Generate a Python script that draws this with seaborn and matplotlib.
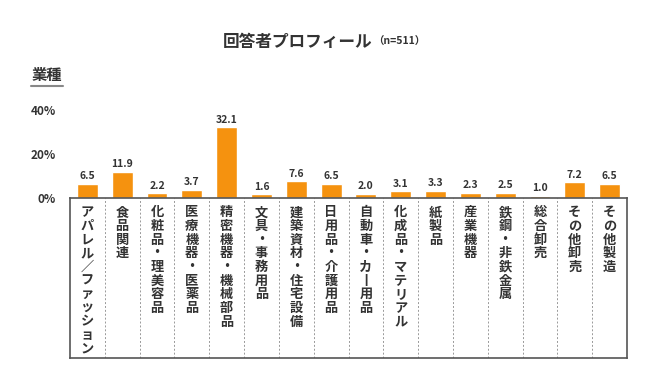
import matplotlib
matplotlib.use("Agg")
import matplotlib.pyplot as plt
import seaborn as sns
import pandas as pd

# data
categories = ["アパレル／ファッション", "食品関連", "化粧品・理美容品", "医療機器・医薬品",
              "精密機器・機械部品", "文具・事務用品", "建築資材・住宅設備", "日用品・介護用品",
              "自動車・カー用品", "化成品・マテリアル", "紙製品", "産業機器",
              "鉄鋼・非鉄金属", "総合卸売", "その他卸売", "その他製造"]
values = [6.5, 11.9, 2.2, 3.7, 32.1, 1.6, 7.6, 6.5, 2.0, 3.1, 3.3, 2.3, 2.5, 1.0, 7.2, 6.5]
yticks = [0, 20, 40]

sns.set_theme(style="white")
plt.rcParams['font.family'] = ['Noto Sans CJK JP', 'DejaVu Sans']

bar_color = "#F5920F"
text_color = "#333333"

df = pd.DataFrame({"cat": categories, "val": values})

fig = plt.figure(figsize=(6.5, 3.65), dpi=100)
ax = fig.add_axes([70/650, 1 - 198/365, 557/650, 99/365])
ax_box = fig.add_axes([70/650, 1 - 358/365, 557/650, 160/365])

sns.barplot(data=df, x="cat", y="val", color=bar_color, width=0.6,
            saturation=1, ax=ax)
ax.set_ylim(0, 45)
ax.set_xlim(-0.5, len(categories) - 0.5)
ax.set_xlabel("")
ax.set_ylabel("")
ax.set_xticks([])
ax.set_yticks(yticks)
ax.set_yticklabels([f"{t}%" for t in yticks], fontsize=8.5, fontweight="bold", color=text_color)
ax.tick_params(axis="y", length=0, pad=10)
for s in ax.spines.values():
    s.set_visible(False)
ax.patch.set_alpha(0)

for i, v in enumerate(values):
    ax.text(i, v + 1.2, f"{v:.1f}", ha="center", va="bottom", fontsize=7.5,
            fontweight="bold", color=text_color)

# label box
ax_box.set_xlim(-0.5, len(categories) - 0.5)
ax_box.set_ylim(0, 1)
ax_box.set_xticks([])
ax_box.set_yticks([])
for s in ax_box.spines.values():
    s.set_visible(True)
    s.set_color("#555555")
    s.set_linewidth(1.2)
for i in range(1, len(categories)):
    ax_box.axvline(i - 0.5, color="#999999", linestyle=(0, (2, 2)), linewidth=0.7)
for i, c in enumerate(categories):
    vert = "\n".join(c.replace("ー", "丨"))
    ax_box.text(i, 0.955, vert, ha="center", va="top", fontsize=9.5,
                fontweight="bold", color=text_color, linespacing=0.97)

# titles
fig.text(372/650, 1 - 42/365, "回答者プロフィール", ha="right", va="center",
         fontsize=12, fontweight="bold", color=text_color)
fig.text(373/650, 1 - 42/365, "（n=511）", ha="left", va="center",
         fontsize=7.5, fontweight="bold", color=text_color)
fig.text(47/650, 1 - 75/365, "業種", ha="center", va="center",
         fontsize=11, fontweight="bold", color=text_color)
fig.add_artist(plt.Line2D([31/650, 63/650], [1 - 86/365, 1 - 86/365],
                          color="#888888", linewidth=1.5))

fig.savefig("out.png", dpi=100)
